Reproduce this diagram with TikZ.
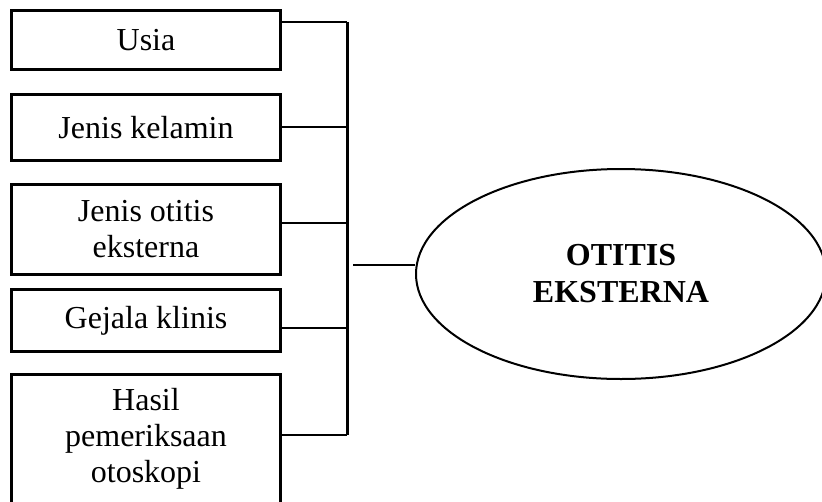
\documentclass[tikz,border=0pt]{standalone}
\usepackage{fontspec}
\setmainfont{Liberation Serif}
\usetikzlibrary{shapes.geometric}
\begin{document}
\begin{tikzpicture}[x=1pt,y=-1pt,
  factor/.style={draw,line width=3pt,rectangle,inner sep=0pt,minimum width=269pt,align=center,
    font=\fontsize{32}{36}\selectfont},
  link/.style={line width=2pt},
  bus/.style={line width=3pt},
  target/.style={draw,line width=2pt,ellipse,inner sep=0pt,minimum width=410pt,minimum height=210pt,
    align=center,font=\fontsize{32}{37}\selectfont\bfseries}]
\useasboundingbox (0,0) rectangle (822,501);
\clip (0,0) rectangle (822,501);
\node[factor,minimum height=59pt] (b1) at (146,40) {Usia};
\node[factor,minimum height=66pt] (b2) at (146,127.5) {Jenis kelamin};
\node[factor,minimum height=90pt] (b3) at (146,229.5) {Jenis otitis\\eksterna};
\node[factor,minimum height=62pt] (b4) at (146,320.5) {Gejala klinis};
\node[factor,minimum height=129pt] (b5) at (146,439) {Hasil\\pemeriksaan\\otoskopi};
\node[target] (e) at (621,274) {OTITIS\\EKSTERNA};
\coordinate (v1) at (347,22);
\coordinate (v2) at (347,127);
\coordinate (v3) at (347,223);
\coordinate (v4) at (347,328);
\coordinate (v5) at (347,435);
\coordinate (h) at (353,265);
\draw[bus] (v1) -- (v5);
\draw[link] (b1.east |- v1) -- (v1);
\draw[link] (b2.east |- v2) -- (v2);
\draw[link] (b3.east |- v3) -- (v3);
\draw[link] (b4.east |- v4) -- (v4);
\draw[link] (b5.east |- v5) -- (v5);
\draw[link] (h) -- (h -| e.west);
\end{tikzpicture}
\end{document}
